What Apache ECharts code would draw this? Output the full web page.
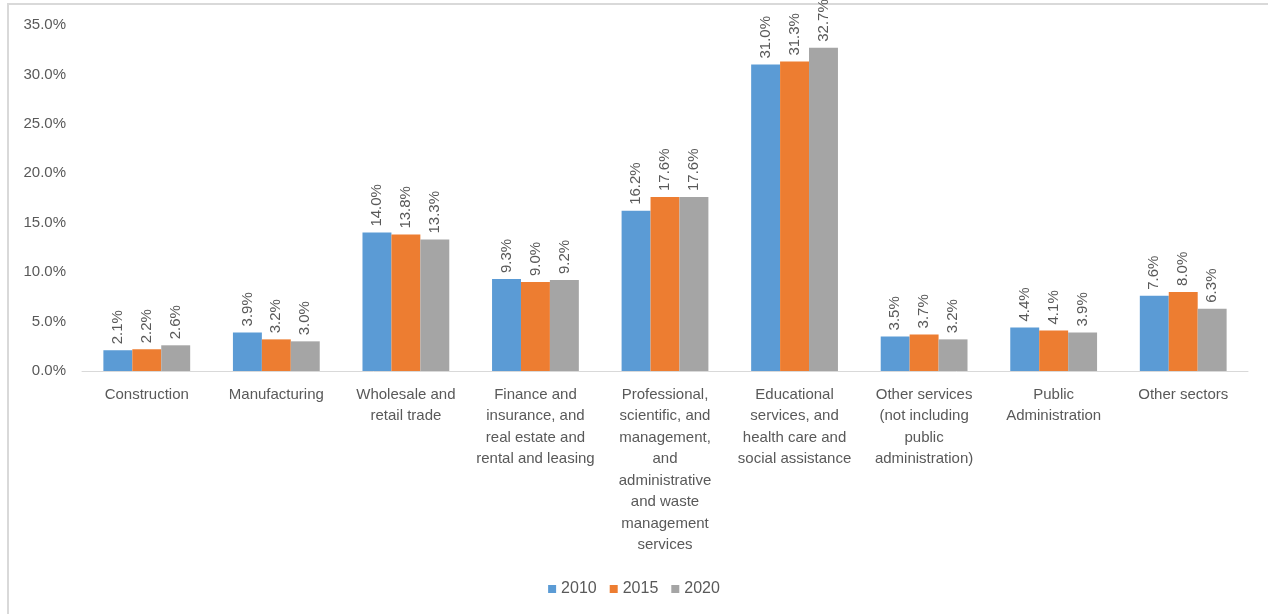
<!DOCTYPE html>
<html>
<head>
<meta charset="utf-8">
<script src="https://cdn.jsdelivr.net/npm/echarts@6/dist/echarts.min.js"></script>
<style>
  html, body { margin: 0; padding: 0; background: #fff; }
  #frame { position: absolute; left: 7px; top: 3px; width: 1261px; height: 611px;
           border-left: 2px solid #d9d9d9; border-top: 2px solid #d9d9d9; }
  #chart { position: absolute; left: 0; top: 0; width: 1268px; height: 614px; }
</style>
</head>
<body>
<div id="frame"></div>
<div id="chart"></div>
<script>
// categories, wrapped the way the reference shows them
var categories = [
  'Construction',
  'Manufacturing',
  'Wholesale and\nretail trade',
  'Finance and\ninsurance, and\nreal estate and\nrental and leasing',
  'Professional,\nscientific, and\nmanagement,\nand\nadministrative\nand waste\nmanagement\nservices',
  'Educational\nservices, and\nhealth care and\nsocial assistance',
  'Other services\n(not including\npublic\nadministration)',
  'Public\nAdministration',
  'Other sectors'
]
var data2010 = [2.1, 3.9, 14.0, 9.3, 16.2, 31.0, 3.5, 4.4, 7.6]
var data2015 = [2.2, 3.2, 13.8, 9.0, 17.6, 31.3, 3.7, 4.1, 8.0]
var data2020 = [2.6, 3.0, 13.3, 9.2, 17.6, 32.7, 3.2, 3.9, 6.3]

var textColor = '#595959'
var fontFam = '"Liberation Sans", Arial, sans-serif'

function barSeries(name, data, color) {
  return {
    name: name,
    type: 'bar',
    data: data,
    barGap: 0,
    barCategoryGap: '33%',
    itemStyle: { color: color },
    label: {
      show: true,
      position: 'top',
      rotate: 90,
      align: 'left',
      verticalAlign: 'middle',
      distance: 6,
      color: textColor,
      fontSize: 15,
      fontFamily: fontFam,
      formatter: function (p) { return p.value.toFixed(1) + '%' }
    }
  }
}

var chart = echarts.init(document.getElementById('chart'))
chart.setOption({
  animation: false,
  textStyle: { fontFamily: fontFam },
  legend: {
    bottom: 12,
    left: 'center',
    itemWidth: 8,
    itemHeight: 8,
    itemGap: 13,
    icon: 'rect',
    textStyle: { color: textColor, fontSize: 16, fontFamily: fontFam },
    data: ['2010', '2015', '2020']
  },
  grid: { left: 82, right: 20, top: 25, bottom: 243 },
  xAxis: {
    type: 'category',
    data: categories,
    axisTick: { show: false },
    axisLine: { lineStyle: { color: '#d9d9d9', width: 1 } },
    axisLabel: {
      interval: 0,
      color: textColor,
      fontSize: 15,
      lineHeight: 21.5,
      margin: 13,
      fontFamily: fontFam
    }
  },
  yAxis: {
    type: 'value',
    min: 0,
    max: 35,
    interval: 5,
    splitLine: { show: false },
    axisLine: { show: false },
    axisTick: { show: false },
    axisLabel: {
      color: textColor,
      fontSize: 15,
      margin: 16,
      fontFamily: fontFam,
      formatter: function (v) { return v.toFixed(1) + '%' }
    }
  },
  series: [
    barSeries('2010', data2010, '#5B9BD5'),
    barSeries('2015', data2015, '#ED7D31'),
    barSeries('2020', data2020, '#A5A5A5')
  ]
})
</script>
</body>
</html>
